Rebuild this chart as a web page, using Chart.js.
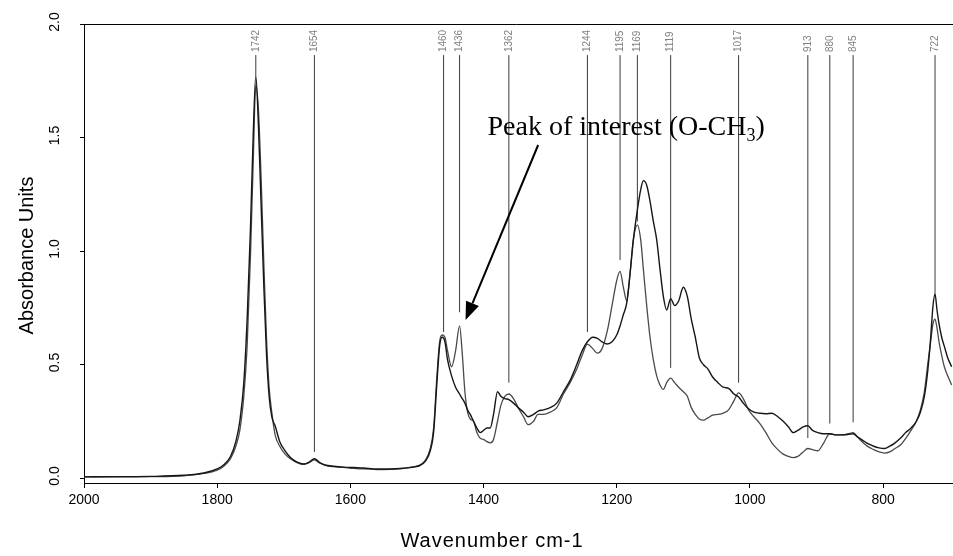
<!DOCTYPE html>
<html>
<head>
<meta charset="utf-8">
<script src="https://cdn.jsdelivr.net/npm/chart.js@4.4.1/dist/chart.umd.min.js"></script>
<style>
    html, body { margin: 0; padding: 0; background: #fff; }
    #wrap { width: 953px; height: 556px; position: relative; }
</style>
</head>
<body>
<div id="wrap"><canvas id="chart-area"></canvas></div>
<script>
// wavenumber grid (cm-1), shared by both spectra
const wavenumbers = [
    2000, 1950, 1900, 1850, 1820, 1800, 1790, 1780, 1772, 1766, 1760, 1755, 1750, 1746, 1742, 1738,
    1734, 1730, 1726, 1722, 1718, 1713, 1706, 1698, 1690, 1680, 1670, 1662, 1654, 1646, 1638, 1625,
    1610, 1595, 1580, 1560, 1540, 1520, 1505, 1495, 1487, 1480, 1475, 1470, 1466, 1462, 1458, 1454,
    1448, 1442, 1436, 1432, 1428, 1424, 1420, 1415, 1410, 1405, 1400, 1395, 1390, 1385, 1379, 1374,
    1368, 1362, 1355, 1348, 1340, 1333, 1325, 1318, 1310, 1300, 1290, 1280, 1270, 1260, 1252, 1244,
    1236, 1229, 1222, 1214, 1207, 1200, 1195, 1190, 1185, 1180, 1175, 1169, 1164, 1160, 1155, 1150,
    1145, 1140, 1135, 1130, 1125, 1119, 1113, 1107, 1100, 1094, 1088, 1082, 1076, 1070, 1063, 1056,
    1048, 1040, 1032, 1024, 1017, 1010, 1002, 994, 985, 976, 967, 958, 950, 942, 935, 928,
    920, 913, 906, 898, 890, 880, 870, 860, 852, 845, 838, 830, 822, 814, 806, 798,
    790, 782, 774, 766, 758, 750, 744, 738, 733, 729, 725, 722, 719, 716, 712, 708,
    703, 697
];

// darker trace (oil)
const oilAbs = [
    0.005, 0.006, 0.007, 0.012, 0.022, 0.040, 0.058, 0.095, 0.16, 0.25, 0.42, 0.70, 1.10, 1.50, 1.77, 1.55,
    1.20, 0.85, 0.55, 0.36, 0.27, 0.23, 0.16, 0.12, 0.09, 0.07, 0.062, 0.070, 0.085, 0.068, 0.058, 0.052,
    0.048, 0.046, 0.044, 0.040, 0.040, 0.043, 0.048, 0.056, 0.075, 0.12, 0.20, 0.42, 0.58, 0.62, 0.60, 0.52,
    0.45, 0.40, 0.37, 0.35, 0.33, 0.30, 0.28, 0.25, 0.22, 0.20, 0.21, 0.22, 0.22, 0.28, 0.38, 0.36,
    0.35, 0.345, 0.33, 0.31, 0.29, 0.27, 0.28, 0.295, 0.30, 0.31, 0.33, 0.38, 0.43, 0.50, 0.56, 0.60,
    0.62, 0.615, 0.60, 0.59, 0.60, 0.63, 0.67, 0.72, 0.77, 0.90, 1.05, 1.18, 1.27, 1.31, 1.29, 1.22,
    1.13, 1.05, 0.92, 0.80, 0.74, 0.79, 0.76, 0.78, 0.84, 0.80, 0.70, 0.62, 0.53, 0.50, 0.48, 0.445,
    0.42, 0.40, 0.395, 0.37, 0.357, 0.33, 0.305, 0.29, 0.285, 0.283, 0.285, 0.27, 0.25, 0.225, 0.20, 0.21,
    0.225, 0.23, 0.21, 0.20, 0.195, 0.195, 0.19, 0.19, 0.192, 0.195, 0.18, 0.165, 0.15, 0.14, 0.133, 0.13,
    0.14, 0.155, 0.175, 0.20, 0.22, 0.25, 0.29, 0.36, 0.47, 0.60, 0.76, 0.81, 0.74, 0.68, 0.62, 0.58,
    0.53, 0.49
];

// grey trace (methyl ester)
const esterAbs = [
    0.005, 0.005, 0.006, 0.010, 0.020, 0.035, 0.052, 0.085, 0.14, 0.21, 0.36, 0.58, 0.98, 1.38, 1.73, 1.62,
    1.32, 0.95, 0.62, 0.40, 0.29, 0.19, 0.14, 0.105, 0.085, 0.068, 0.060, 0.068, 0.080, 0.066, 0.056, 0.050,
    0.047, 0.042, 0.040, 0.037, 0.038, 0.042, 0.050, 0.058, 0.08, 0.13, 0.22, 0.45, 0.60, 0.63, 0.62, 0.56,
    0.49, 0.56, 0.67, 0.55, 0.38, 0.29, 0.26, 0.25, 0.20, 0.175, 0.17, 0.16, 0.155, 0.17, 0.25, 0.32,
    0.36, 0.37, 0.35, 0.31, 0.27, 0.235, 0.25, 0.28, 0.28, 0.29, 0.31, 0.37, 0.42, 0.48, 0.54, 0.59,
    0.57, 0.55, 0.57, 0.65, 0.76, 0.87, 0.91, 0.84, 0.78, 0.90, 1.05, 1.115, 1.05, 0.92, 0.76, 0.62,
    0.52, 0.45, 0.41, 0.39, 0.42, 0.44, 0.42, 0.40, 0.38, 0.36, 0.31, 0.28, 0.26, 0.255, 0.265, 0.277,
    0.28, 0.286, 0.30, 0.34, 0.375, 0.35, 0.30, 0.27, 0.24, 0.20, 0.155, 0.125, 0.105, 0.095, 0.09, 0.095,
    0.115, 0.13, 0.125, 0.12, 0.15, 0.195, 0.19, 0.19, 0.195, 0.20, 0.18, 0.155, 0.137, 0.125, 0.115, 0.11,
    0.115, 0.13, 0.145, 0.175, 0.21, 0.25, 0.30, 0.38, 0.50, 0.59, 0.68, 0.70, 0.66, 0.60, 0.54, 0.49,
    0.45, 0.41
];

// labelled peak markers: position and where the marker line stops
const peakWn = [1742, 1654, 1460, 1436, 1362, 1244, 1195, 1169, 1119, 1017, 913, 880, 845, 722];
const peakLow = [1.77, 0.115, 0.643, 0.73, 0.42, 0.643, 0.96, 1.13, 0.485, 0.42, 0.176, 0.24, 0.245, 0.80];
const peakHigh = 1.863;

const xTicks = [2000, 1800, 1600, 1400, 1200, 1000, 800];
const yTicks = [0.0, 0.5, 1.0, 1.5, 2.0];

// annotation (data coordinates)
const noteText = 'Peak of interest (O-CH';
const noteSub = '3';
const noteAt = [1394, 1.51];
const arrowFrom = [1318, 1.467];
const arrowTo = [1427, 0.696];

const pts = (ys) => wavenumbers.map((x, i) => ({ x: x, y: ys[i] }));

let datasets = [];
peakWn.forEach((wn, i) => {
    datasets.push({
        data: [{ x: wn, y: peakLow[i] }, { x: wn, y: peakHigh }],
        borderColor: '#3a3a3a',
        borderWidth: 1,
        pointRadius: 0,
        order: 3
    });
});
datasets.push({
    label: 'ester',
    data: pts(esterAbs),
    borderColor: '#4a4a4a',
    borderWidth: 1.3,
    pointRadius: 0,
    cubicInterpolationMode: 'monotone',
    order: 2
});
datasets.push({
    label: 'oil',
    data: pts(oilAbs),
    borderColor: '#161616',
    borderWidth: 1.4,
    pointRadius: 0,
    cubicInterpolationMode: 'monotone',
    order: 1
});

const extras = {
    id: 'extras',
    afterDraw(chart) {
        const ctx = chart.ctx;
        const xs = chart.scales.x, ys = chart.scales.y;
        const area = chart.chartArea;
        ctx.save();

        // top frame line
        ctx.strokeStyle = '#000';
        ctx.lineWidth = 1;
        ctx.beginPath();
        ctx.moveTo(area.left - 4, Math.round(area.top) + 0.5);
        ctx.lineTo(area.right, Math.round(area.top) + 0.5);
        ctx.stroke();

        // y tick labels, rotated
        ctx.fillStyle = '#000';
        ctx.font = '14px Arial, "Liberation Sans", sans-serif';
        ctx.textAlign = 'center';
        ctx.textBaseline = 'middle';
        yTicks.forEach(v => {
            ctx.save();
            ctx.translate(55, ys.getPixelForValue(v) - 2);
            ctx.rotate(-Math.PI / 2);
            ctx.fillText(v.toFixed(1), 0, 0);
            ctx.restore();
        });

        // axis titles
        ctx.font = '20px Arial, "Liberation Sans", sans-serif';
        ctx.save();
        ctx.translate(27, (area.top + area.bottom) / 2 + 2);
        ctx.rotate(-Math.PI / 2);
        ctx.fillText('Absorbance Units', 0, 0);
        ctx.restore();
        ctx.letterSpacing = '1px';
        ctx.fillText('Wavenumber cm-1', 492, 541);
        ctx.letterSpacing = '0px';

        // peak labels
        ctx.fillStyle = '#808080';
        ctx.font = '10px Arial, "Liberation Sans", sans-serif';
        ctx.textAlign = 'left';
        peakWn.forEach(wn => {
            ctx.save();
            ctx.translate(xs.getPixelForValue(wn), ys.getPixelForValue(peakHigh) - 3);
            ctx.rotate(-Math.PI / 2);
            ctx.fillText(String(wn), 0, 0);
            ctx.restore();
        });

        // annotation text
        ctx.fillStyle = '#000';
        ctx.textBaseline = 'alphabetic';
        ctx.font = '28px "Times New Roman", "Liberation Serif", serif';
        let tx = xs.getPixelForValue(noteAt[0]);
        let ty = ys.getPixelForValue(noteAt[1]);
        ctx.fillText(noteText, tx, ty);
        tx += ctx.measureText(noteText).width;
        ctx.font = '18px "Times New Roman", "Liberation Serif", serif';
        ctx.fillText(noteSub, tx, ty + 6);
        tx += ctx.measureText(noteSub).width;
        ctx.font = '28px "Times New Roman", "Liberation Serif", serif';
        ctx.fillText(')', tx, ty);

        // arrow
        const x1 = xs.getPixelForValue(arrowFrom[0]), y1 = ys.getPixelForValue(arrowFrom[1]);
        const x2 = xs.getPixelForValue(arrowTo[0]), y2 = ys.getPixelForValue(arrowTo[1]);
        const ang = Math.atan2(y2 - y1, x2 - x1);
        const headLen = 18, headW = 7;
        const bx = x2 - headLen * Math.cos(ang), by = y2 - headLen * Math.sin(ang);
        ctx.strokeStyle = '#000';
        ctx.lineWidth = 2;
        ctx.beginPath();
        ctx.moveTo(x1, y1);
        ctx.lineTo(bx, by);
        ctx.stroke();
        ctx.beginPath();
        ctx.moveTo(x2, y2);
        ctx.lineTo(bx + headW * Math.sin(ang), by - headW * Math.cos(ang));
        ctx.lineTo(bx - headW * Math.sin(ang), by + headW * Math.cos(ang));
        ctx.closePath();
        ctx.fill();

        ctx.restore();
    }
};

new Chart(document.getElementById('chart-area'), {
    type: 'line',
    data: { datasets: datasets },
    options: {
        responsive: true,
        maintainAspectRatio: false,
        animation: false,
        events: [],
        layout: { padding: { top: 24, right: 0, left: 0, bottom: 0 } },
        plugins: { legend: { display: false }, tooltip: { enabled: false } },
        scales: {
            x: {
                type: 'linear',
                reverse: true,
                min: 695,
                max: 2000,
                afterBuildTicks: s => { s.ticks = xTicks.map(v => ({ value: v })); },
                afterFit: s => { s.height = 73; },
                border: { color: '#000', width: 1 },
                grid: { drawOnChartArea: false, color: '#000', tickLength: 5 },
                ticks: {
                    color: '#000',
                    font: { family: 'Arial, "Liberation Sans", sans-serif', size: 14 },
                    padding: 4,
                    maxRotation: 0,
                    callback: v => String(v)
                }
            },
            y: {
                type: 'linear',
                min: -0.022,
                max: 2.0,
                afterBuildTicks: s => { s.ticks = yTicks.map(v => ({ value: v })); },
                afterFit: s => { s.width = 84; },
                border: { color: '#000', width: 1 },
                grid: { drawOnChartArea: false, color: '#000', tickLength: 4 },
                ticks: { display: false }
            }
        }
    },
    plugins: [extras]
});
</script>
</body>
</html>
